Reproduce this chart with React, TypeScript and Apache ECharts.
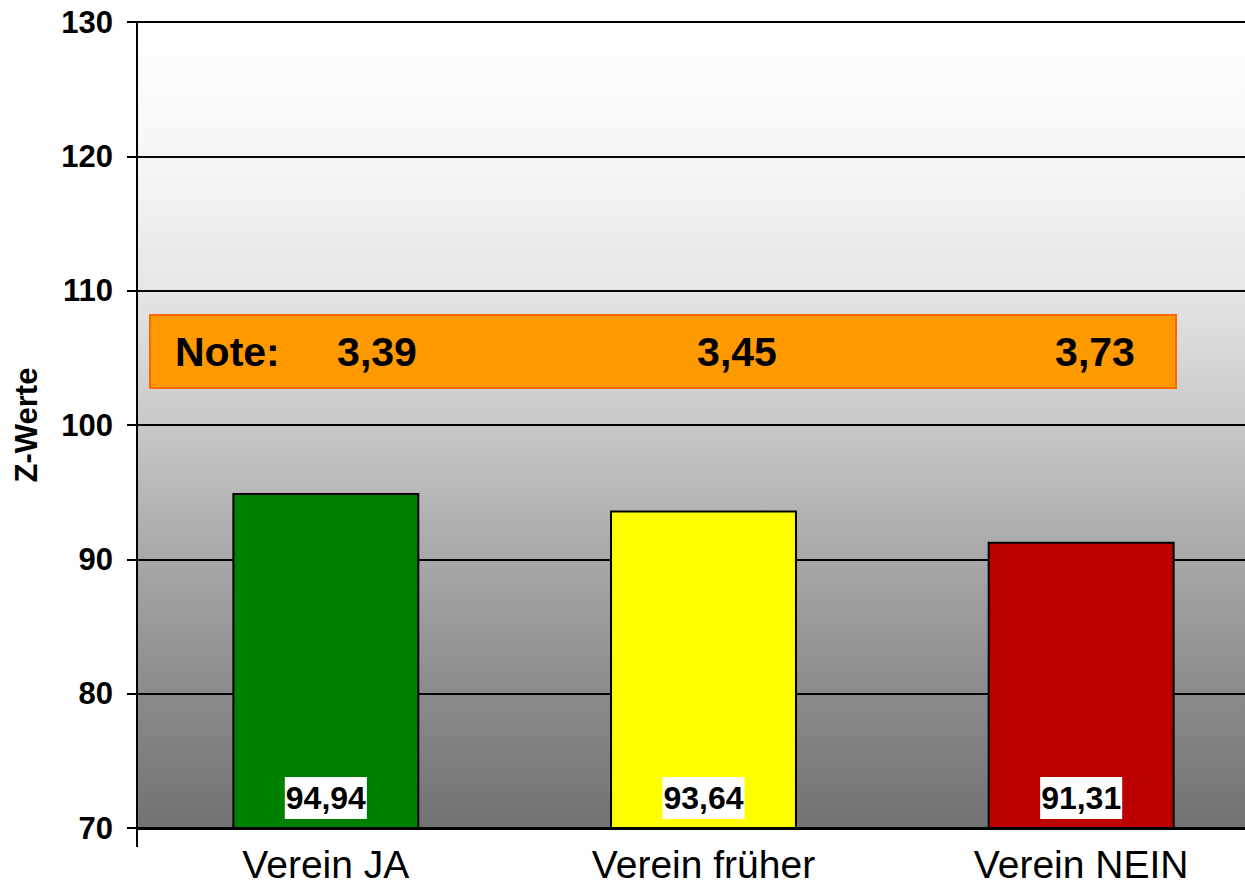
import React, { useEffect, useRef } from "react";
import * as echarts from "echarts";

const categories = ["Verein JA", "Verein früher", "Verein NEIN"];
const values = [94.94, 93.64, 91.31];
const barColors = ["#008000", "#FFFF00", "#BB0000"];
const noteLabel = "Note:";
const noteValues = ["3,39", "3,45", "3,73"];
const yTicks = { min: 70, max: 130, interval: 10 };
const yName = "Z-Werte";

const fmt = (v: number) => v.toFixed(2).replace(".", ",");

export default function App() {
  const ref = useRef<HTMLDivElement>(null);
  useEffect(() => {
    if (!ref.current) return;
    const chart = echarts.init(ref.current, undefined, { renderer: "svg" });
    const font = "'Liberation Sans', Arial, sans-serif";
    const noteX = [377, 737, 1095];
    chart.setOption({
      animation: false,
      grid: {
        left: 137,
        top: 22,
        width: 1133,
        height: 806,
        outerBoundsMode: "none",
        containLabel: false,
        show: true,
        borderWidth: 0,
        backgroundColor: new echarts.graphic.LinearGradient(0, 0, 0, 1, [
          { offset: 0, color: "#ffffff" },
          { offset: 0.17, color: "#f6f6f6" },
          { offset: 0.33, color: "#e6e6e6" },
          { offset: 0.5, color: "#c8c8c8" },
          { offset: 0.67, color: "#a7a7a7" },
          { offset: 0.83, color: "#8b8b8b" },
          { offset: 1, color: "#727272" },
        ]),
      },
      xAxis: {
        type: "category",
        data: categories,
        axisLine: { show: true, lineStyle: { color: "#000", width: 3 } },
        axisTick: {
          show: true,
          interval: (i: number) => i === 0,
          length: 19,
          lineStyle: { color: "#000", width: 2 },
        },
        axisLabel: {
          color: "#000",
          fontFamily: font,
          fontSize: 39,
          margin: 17,
          interval: 0,
        },
      },
      yAxis: {
        type: "value",
        min: yTicks.min,
        max: yTicks.max,
        interval: yTicks.interval,
        name: yName,
        nameLocation: "middle",
        nameRotate: 90,
        nameGap: 95,
        nameTextStyle: {
          color: "#000",
          fontFamily: font,
          fontWeight: "bold",
          fontSize: 31,
        },
        axisLine: { show: true, lineStyle: { color: "#000", width: 2 } },
        axisTick: { show: true, length: 10, lineStyle: { color: "#000", width: 2 } },
        axisLabel: {
          color: "#000",
          fontFamily: font,
          fontWeight: "bold",
          fontSize: 31,
          margin: 24,
        },
        splitLine: { show: true, lineStyle: { color: "#000", width: 2 } },
      },
      series: [
        {
          type: "bar",
          barWidth: "49.5%",
          data: values.map((v, i) => ({
            value: v,
            itemStyle: { color: barColors[i], borderColor: "#000", borderWidth: 2 },
          })),
          label: {
            show: true,
            position: "insideBottom",
            distance: 10,
            formatter: (p: any) => fmt(p.value),
            color: "#000",
            fontFamily: font,
            fontWeight: "bold",
            fontSize: 32,
            lineHeight: 30,
            backgroundColor: "#fff",
            padding: [6, 1, 6, 1],
          },
        },
      ],
      graphic: [
        {
          type: "rect",
          shape: { x: 150, y: 315, width: 1026, height: 73 },
          style: { fill: "#FF9900", stroke: "#FF6600", lineWidth: 2 },
          z: 10,
        },
        {
          type: "text",
          x: 175,
          y: 352,
          style: {
            text: noteLabel,
            fill: "#000",
            font: `bold 41px ${font}`,
            textAlign: "left",
            textVerticalAlign: "middle",
          },
          z: 11,
        },
        ...noteValues.map((t, i) => ({
          type: "text",
          x: noteX[i],
          y: 352,
          style: {
            text: t,
            fill: "#000",
            font: `bold 41px ${font}`,
            textAlign: "center",
            textVerticalAlign: "middle",
          },
          z: 11,
        })),
      ],
    });
    return () => chart.dispose();
  }, []);
  return (
    <div
      ref={ref}
      style={{ position: "fixed", left: 0, top: 0, width: 1245, height: 887, background: "#fff" }}
    />
  );
}
